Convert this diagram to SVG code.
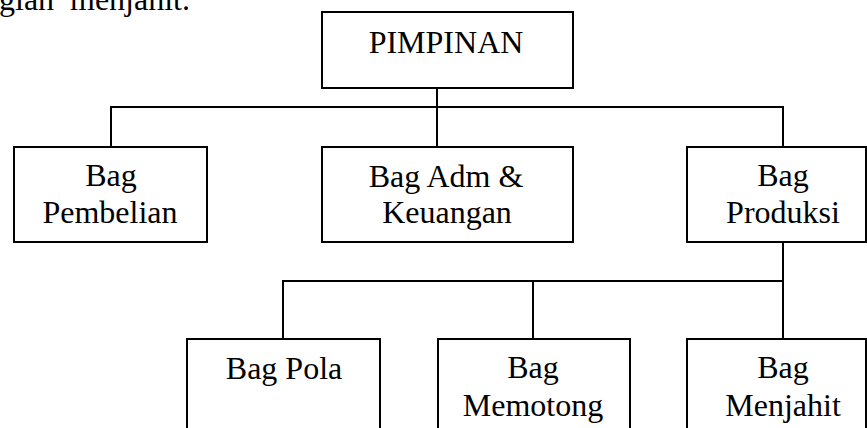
<svg xmlns="http://www.w3.org/2000/svg" width="867" height="428" viewBox="0 0 867 428">
<style>
  text { font-family: "Liberation Serif", "Times New Roman", serif; font-size: 32px; fill: #000; }
  .box { fill: #fff; stroke: #000; stroke-width: 2; }
  .c { text-anchor: middle; }
  .link { fill: none; stroke: #000; stroke-width: 2; }
</style>
<rect width="867" height="428" fill="#fff"/>
<text x="-1" y="10">gian</text>
<text x="70" y="10">menjahit.</text>
<g id="connectors">
  <path class="link" d="M437 88 V147"/>
  <path class="link" d="M111 147 V107 H783 V147"/>
  <path class="link" d="M783 242 V281"/>
  <path class="link" d="M283 339 V281 H783 V339"/>
  <path class="link" d="M533 281 V339"/>
</g>
<g id="pimpinan">
  <rect class="box" x="322" y="12" width="251" height="76"/>
  <text class="c" x="446" y="53">PIMPINAN</text>
</g>
<g id="pembelian">
  <rect class="box" x="14" y="147" width="193" height="95"/>
  <text class="c" x="111" y="186">Bag</text>
  <text class="c" x="110" y="223">Pembelian</text>
</g>
<g id="adm">
  <rect class="box" x="322" y="147" width="251" height="95"/>
  <text class="c" x="446" y="187">Bag Adm &amp;</text>
  <text class="c" x="447" y="223">Keuangan</text>
</g>
<g id="produksi">
  <rect class="box" x="687" y="147" width="179" height="95"/>
  <text class="c" x="783" y="186">Bag</text>
  <text class="c" x="783" y="223">Produksi</text>
</g>
<g id="pola">
  <rect class="box" x="187" y="339" width="193" height="100"/>
  <text class="c" x="284" y="379">Bag Pola</text>
</g>
<g id="memotong">
  <rect class="box" x="438" y="339" width="192" height="100"/>
  <text class="c" x="533" y="378">Bag</text>
  <text class="c" x="533" y="416">Memotong</text>
</g>
<g id="menjahit">
  <rect class="box" x="687" y="339" width="179" height="100"/>
  <text class="c" x="783" y="378">Bag</text>
  <text class="c" x="783" y="416">Menjahit</text>
</g>
</svg>
